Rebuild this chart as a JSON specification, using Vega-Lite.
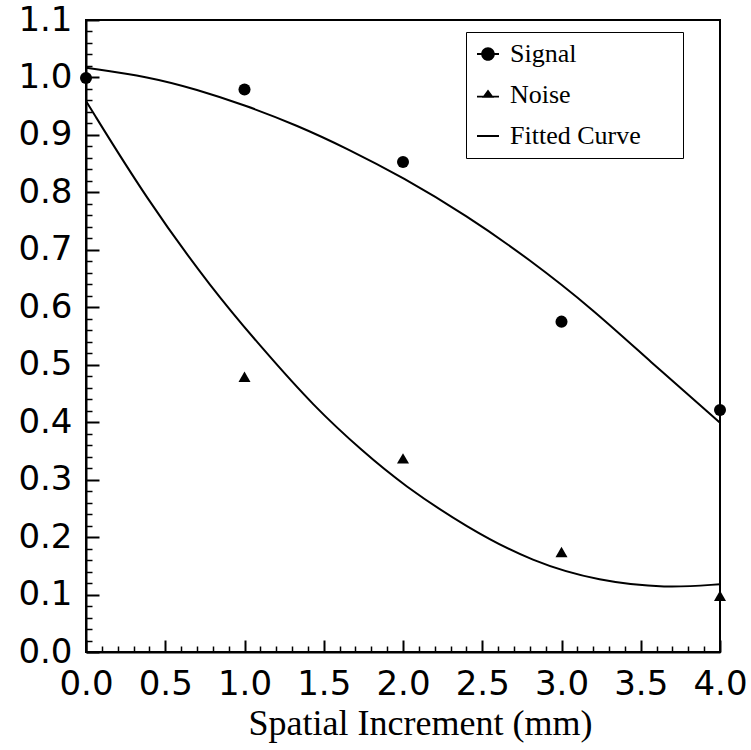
{
  "$schema": "https://vega.github.io/schema/vega-lite/v6.json",
  "width": 634,
  "height": 632,
  "autosize": {"type": "none"},
  "padding": {"left": 86, "top": 20, "right": 31, "bottom": 98},
  "background": "white",
  "config": {
    "view": {"stroke": "black", "strokeWidth": 2},
    "axis": {"grid": false, "domainColor": "black", "domainWidth": 2, "tickColor": "black", "labelColor": "black", "titleColor": "black", "labelFlush": false, "labelOverlap": false, "labelBound": false}
  },
  "datasets": {
    "points": [
      {"x": 0, "y": 0.999, "series": "Signal"},
      {"x": 1, "y": 0.979, "series": "Signal"},
      {"x": 2, "y": 0.853, "series": "Signal"},
      {"x": 3, "y": 0.575, "series": "Signal"},
      {"x": 4, "y": 0.421, "series": "Signal"},
      {"x": 1, "y": 0.479, "series": "Noise"},
      {"x": 2, "y": 0.337, "series": "Noise"},
      {"x": 3, "y": 0.174, "series": "Noise"},
      {"x": 4, "y": 0.098, "series": "Noise"}
    ],
    "fits": [
      {"x": 0.0, "y": 1.017, "curve": "Signal fit"},
      {"x": 0.4, "y": 1.001, "curve": "Signal fit"},
      {"x": 0.7, "y": 0.979, "curve": "Signal fit"},
      {"x": 1.0, "y": 0.952, "curve": "Signal fit"},
      {"x": 1.33, "y": 0.917, "curve": "Signal fit"},
      {"x": 1.65, "y": 0.876, "curve": "Signal fit"},
      {"x": 2.0, "y": 0.826, "curve": "Signal fit"},
      {"x": 2.4, "y": 0.760, "curve": "Signal fit"},
      {"x": 2.8, "y": 0.683, "curve": "Signal fit"},
      {"x": 3.2, "y": 0.596, "curve": "Signal fit"},
      {"x": 3.55, "y": 0.508, "curve": "Signal fit"},
      {"x": 4.0, "y": 0.399, "curve": "Signal fit"},
      {"x": 0.0, "y": 0.959, "curve": "Noise fit"},
      {"x": 0.38, "y": 0.789, "curve": "Noise fit"},
      {"x": 0.8, "y": 0.630, "curve": "Noise fit"},
      {"x": 1.12, "y": 0.526, "curve": "Noise fit"},
      {"x": 1.435, "y": 0.428, "curve": "Noise fit"},
      {"x": 1.75, "y": 0.348, "curve": "Noise fit"},
      {"x": 2.0, "y": 0.291, "curve": "Noise fit"},
      {"x": 2.4, "y": 0.217, "curve": "Noise fit"},
      {"x": 2.82, "y": 0.156, "curve": "Noise fit"},
      {"x": 3.24, "y": 0.123, "curve": "Noise fit"},
      {"x": 3.66, "y": 0.111, "curve": "Noise fit"},
      {"x": 4.0, "y": 0.118, "curve": "Noise fit"}
    ]
  },
  "layer": [
    {
      "data": {"name": "fits"},
      "mark": {"type": "line", "color": "black", "strokeWidth": 2, "interpolate": "basis"},
      "encoding": {
        "x": {
          "field": "x", "type": "quantitative",
          "scale": {"domain": [0, 4], "nice": false, "zero": false},
          "axis": {
            "orient": "bottom",
            "values": [0, 0.5, 1, 1.5, 2, 2.5, 3, 3.5, 4],
            "format": ".1f",
            "tickSize": -12, "tickWidth": 2,
            "labelPadding": 27, "labelFont": "DejaVu Sans", "labelFontSize": 34,
            "title": "Spatial Increment (mm)",
            "titleFont": "Liberation Serif", "titleFontSize": 36, "titleFontWeight": "normal",
            "titlePadding": 5, "titleX": 334
          }
        },
        "y": {
          "field": "y", "type": "quantitative",
          "scale": {"domain": [0, 1.1], "nice": false, "zero": false},
          "axis": {
            "orient": "left",
            "values": [0, 0.1, 0.2, 0.3, 0.4, 0.5, 0.6, 0.7, 0.8, 0.9, 1.0, 1.1],
            "format": ".1f",
            "tickSize": -13, "tickWidth": 2,
            "labelPadding": 27, "labelFont": "DejaVu Sans", "labelFontSize": 34,
            "title": null
          }
        },
        "detail": {"field": "curve", "type": "nominal"}
      }
    },
    {
      "data": {"name": "points"},
      "mark": {"type": "point", "filled": true, "opacity": 1, "color": "black", "size": 145},
      "encoding": {
        "x": {
          "field": "x", "type": "quantitative",
          "axis": {
            "orient": "bottom",
            "values": [0.1, 0.2, 0.3, 0.4, 0.6, 0.7, 0.8, 0.9, 1.1, 1.2, 1.3, 1.4, 1.6, 1.7, 1.8, 1.9, 2.1, 2.2, 2.3, 2.4, 2.6, 2.7, 2.8, 2.9, 3.1, 3.2, 3.3, 3.4, 3.6, 3.7, 3.8, 3.9],
            "labels": false, "domain": false,
            "tickSize": -6, "tickWidth": 1.5,
            "title": null
          }
        },
        "y": {
          "field": "y", "type": "quantitative",
          "axis": {
            "orient": "left",
            "values": [0.02, 0.04, 0.06, 0.08, 0.12, 0.14, 0.16, 0.18, 0.22, 0.24, 0.26, 0.28, 0.32, 0.34, 0.36, 0.38, 0.42, 0.44, 0.46, 0.48, 0.52, 0.54, 0.56, 0.58, 0.62, 0.64, 0.66, 0.68, 0.72, 0.74, 0.76, 0.78, 0.82, 0.84, 0.86, 0.88, 0.92, 0.94, 0.96, 0.98, 1.02, 1.04, 1.06, 1.08],
            "labels": false, "domain": false,
            "tickSize": -6, "tickWidth": 1.5,
            "title": null
          }
        },
        "shape": {
          "condition": {"test": "datum.series === 'Noise'", "value": "triangle-up"},
          "value": "circle"
        }
      }
    },
    {
      "data": {"name": "points"},
      "mark": {"type": "point", "filled": true, "opacity": 0, "color": "black", "size": 145},
      "encoding": {
        "x": {"field": "x", "type": "quantitative", "axis": null},
        "y": {"field": "y", "type": "quantitative", "axis": null},
        "shape": {
          "field": "series", "type": "nominal",
          "scale": {
            "domain": ["Signal", "Noise", "Fitted Curve"],
            "range": [
              "M-1,-0.09H1V0.09H-1Z M-0.62,0A0.62,0.62 0 1,1 0.62,0A0.62,0.62 0 1,1 -0.62,0Z",
              "M-1,0.06H1V0.22H-1Z M0,-0.5L0.55,0.25L-0.55,0.25Z",
              "M-1,-0.09H1V0.09H-1Z"
            ]
          },
          "legend": {
            "title": null,
            "orient": "none",
            "legendX": 380,
            "legendY": 12,
            "padding": 9,
            "strokeColor": "black",
            "symbolSize": 484,
            "symbolOpacity": 1,
            "symbolFillColor": "black",
            "symbolStrokeWidth": 0,
            "labelOffset": 9,
            "rowPadding": 15,
            "labelLimit": 0,
            "labelFont": "Liberation Serif",
            "labelFontSize": 26,
            "labelColor": "black",
            "labelExpr": "datum.label + '\u00a0\u00a0\u00a0\u00a0\u00a0\u200b'"
          }
        }
      }
    }
  ],
  "resolve": {"axis": {"x": "independent", "y": "independent"}}
}
